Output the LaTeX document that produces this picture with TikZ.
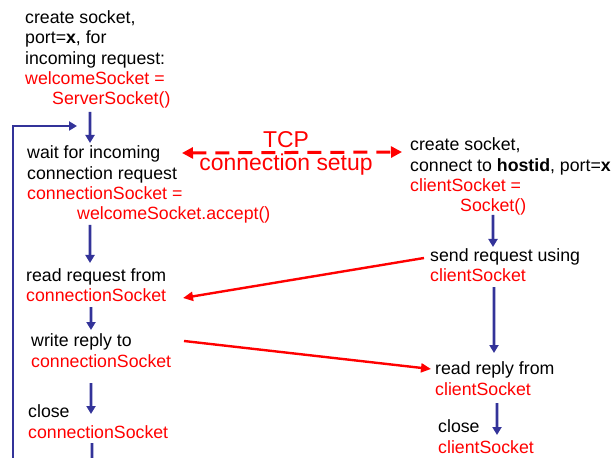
\documentclass[tikz,border=0pt]{standalone}
\usepackage{fontspec}
\setmainfont{Liberation Sans}
\usepackage{xcolor}
\usetikzlibrary{arrows.meta,positioning}
\definecolor{flowblue}{RGB}{51,51,153}
\definecolor{codered}{RGB}{255,0,0}
\tikzset{
      flow/.style    = {flowblue, line width=2.6bp, -{Triangle[length=8bp,width=9bp]}},
      flowline/.style = {flowblue, line width=2.6bp},
      message/.style = {codered, line width=2.4bp, -{Triangle[length=10bp,width=9bp]}},
      setup/.style   = {codered, line width=3bp, dash pattern=on 14bp off 9bp,
                        {Triangle[length=11bp,width=11bp]}-{Triangle[length=11bp,width=11bp]}},
    }
\newcommand{\code}[1]{\textcolor{codered}{#1}}

\begin{document}
\begin{tikzpicture}[x=1bp, y=-1bp,
        every node/.style = {inner sep=0pt, align=left, anchor=base west,
                             font=\fontsize{17.8}{20.5}\selectfont},
        ]
        \useasboundingbox (0,0) rectangle (615,458);

        % server side (nodes sit on the baseline of their last line)
        \node (server) at (25,105) {create socket,\\ port=\textbf{x}, for\\ incoming request:\\
              \code{welcomeSocket =}\\ \hspace*{27bp}\code{ServerSocket()}};
        \node (wait) at (27,220) {wait for incoming\\ connection request\\
              \code{connectionSocket =}\\ \hspace*{50bp}\code{welcomeSocket.accept()}};
        \node (readreq) at (26,302) {read request from\\ \code{connectionSocket}};
        \node (write) at (31,367) {write reply to\\ \code{connectionSocket}};
        \node (srvclose) at (28,438) {close\\ \code{connectionSocket}};

        % client side
        \node (client) at (410,212) {create socket,\\ connect to \textbf{hostid}, port=\textbf{x}\\
              \code{clientSocket =}\\ \hspace*{50bp}\code{Socket()}};
        \node (send) at (430,282) {send request using\\ \code{clientSocket}};
        \node (readrep) at (435,395) {read reply from\\ \code{clientSocket}};
        \node (cliclose) at (438,453) {close\\ \code{clientSocket}};

        \node [align=center, anchor=base, text=codered,
               font=\fontsize{23}{24}\selectfont] (tcp) at (286,171) {TCP\\ connection setup};

        \coordinate (loopbot) at (13,462);
        \coordinate (srvout) at (92,462);

        % server flow
        \draw[flow] ([xshift=65bp,yshift=-7bp]server.base west) -- ([xshift=63bp,yshift=77bp]wait.base west);
        \draw[flow] ([xshift=63bp,yshift=-5bp]wait.base west) -- ([xshift=64bp,yshift=39bp]readreq.base west);
        \draw[flow] ([xshift=65bp,yshift=-5bp]readreq.base west) -- ([xshift=60bp,yshift=37bp]write.base west);
        \draw[flow] ([xshift=60bp,yshift=-16bp]write.base west) -- ([xshift=63bp,yshift=24bp]srvclose.base west);
        \draw[flowline] ([xshift=64bp,yshift=-5bp]srvclose.base west) -- (srvout);
        \draw[flow] (loopbot) |- ([xshift=50bp,yshift=94bp]wait.base west);

        % client flow
        \draw[flow] ([xshift=83bp,yshift=-3bp]client.base west) -- ([xshift=63bp,yshift=35bp]send.base west);
        \draw[flow] ([xshift=64bp,yshift=-5bp]send.base west) -- ([xshift=59bp,yshift=42bp]readrep.base west);
        \draw[flow] ([xshift=62bp,yshift=-8bp]readrep.base west) -- ([xshift=59bp,yshift=18bp]cliclose.base west);

        % messages
        \draw[setup] ([xshift=155bp,yshift=67bp]wait.base west) -- ([xshift=-8bp,yshift=60bp]client.base west);
        \draw[message] ([xshift=-6bp,yshift=24bp]send.base west) -- ([xshift=157bp,yshift=4bp]readreq.base west);
        \draw[message] ([xshift=153bp,yshift=26bp]write.base west) -- ([xshift=-4bp,yshift=26bp]readrep.base west);
\end{tikzpicture}
\end{document}
